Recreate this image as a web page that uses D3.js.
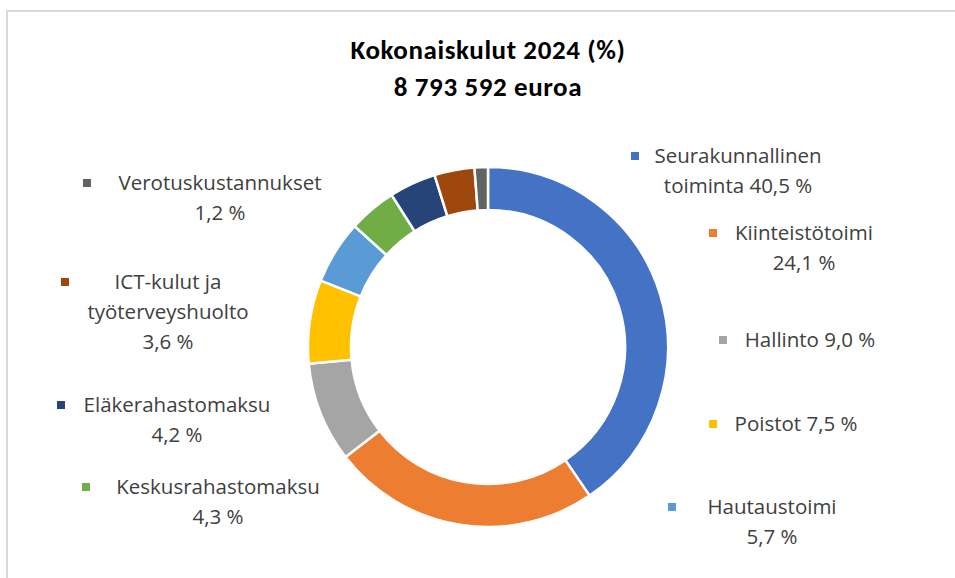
<!DOCTYPE html>
<html>
<head>
<meta charset="utf-8">
<script src="https://cdn.jsdelivr.net/npm/d3@7"></script>
<style>
  body { margin: 0; background: #fff; }
  #chart svg { display: block; }
</style>
</head>
<body>
<div id="chart"></div>
<script>
// Data
const categories = ["Seurakunnallinen toiminta", "Kiinteistötoimi", "Hallinto", "Poistot",
  "Hautaustoimi", "Keskusrahastomaksu", "Eläkerahastomaksu", "ICT-kulut ja työterveyshuolto",
  "Verotuskustannukset"];
const values = [40.5, 24.1, 9.0, 7.5, 5.7, 4.3, 4.2, 3.6, 1.2];
const colors = ["#4472C4", "#ED7D31", "#A5A5A5", "#FFC000", "#5B9BD5", "#70AD47",
  "#264478", "#9E480E", "#636363"];
// label lines ({v} = value text)
const labelLines = [
  ["Seurakunnallinen", "toiminta {v}"],
  ["Kiinteistötoimi", "{v}"],
  ["Hallinto {v}"],
  ["Poistot {v}"],
  ["Hautaustoimi", "{v}"],
  ["Keskusrahastomaksu", "{v}"],
  ["Eläkerahastomaksu", "{v}"],
  ["ICT-kulut ja", "työterveyshuolto", "{v}"],
  ["Verotuskustannukset", "{v}"]
];
const title = ["Kokonaiskulut 2024 (%)", "8 793 592 euroa"];

// Layout: label centre x, first line y, marker x (absolute)
const labelPos = [
  {x: 738, y: 156, mx: 635},
  {x: 804, y: 233, mx: 713},
  {x: 810, y: 340, mx: 723},
  {x: 796, y: 424, mx: 713},
  {x: 772, y: 507, mx: 672},
  {x: 218, y: 487, mx: 86},
  {x: 177, y: 405, mx: 61},
  {x: 168, y: 282, mx: 65},
  {x: 220, y: 183, mx: 87}
];

const W = 955, H = 578;
const cx = 488, cy = 347, rOuter = 180, rInner = 137;

const svg = d3.select("#chart").append("svg")
  .attr("width", W).attr("height", H);

// Chart border
svg.append("path")
  .attr("d", `M7,${H} V11 H${W}`)
  .attr("fill", "none")
  .attr("stroke", "#d9d9d9")
  .attr("stroke-width", 2);

// Title
svg.append("g").selectAll("text")
  .data(title)
  .join("text")
  .attr("x", cx)
  .attr("y", (d, i) => 59 + i * 37)
  .attr("text-anchor", "middle")
  .attr("font-family", "Carlito, 'Liberation Sans Narrow', 'Open Sans', sans-serif")
  .attr("font-weight", "bold")
  .attr("font-size", 27)
  .attr("letter-spacing", 0.6)
  .attr("fill", "#000")
  .text(d => d);

// Donut
const pie = d3.pie().sort(null).value(d => d);
const arc = d3.arc().innerRadius(rInner).outerRadius(rOuter);

const g = svg.append("g").attr("transform", `translate(${cx},${cy})`);
g.selectAll("path")
  .data(pie(values))
  .join("path")
  .attr("d", arc)
  .attr("fill", (d, i) => colors[i])
  .attr("stroke", "#fff")
  .attr("stroke-width", 2.5);

// Labels
const fmt = v => d3.format(".1f")(v).replace(".", ",") + " %";
const lineH = 30;
const labels = svg.append("g")
  .attr("font-family", "'Open Sans', sans-serif")
  .attr("font-size", 20.5)
  .attr("fill", "#404040");

labelLines.forEach((lines, i) => {
  const p = labelPos[i];
  labels.append("rect")
    .attr("x", p.mx - 4).attr("y", p.y - 4)
    .attr("width", 8).attr("height", 8)
    .attr("fill", colors[i]);
  labels.append("g").selectAll("text")
    .data(lines)
    .join("text")
    .attr("x", p.x)
    .attr("y", (d, j) => p.y + j * lineH)
    .attr("dy", "0.35em")
    .attr("text-anchor", "middle")
    .text(d => d.replace("{v}", fmt(values[i])));
});
</script>
</body>
</html>
